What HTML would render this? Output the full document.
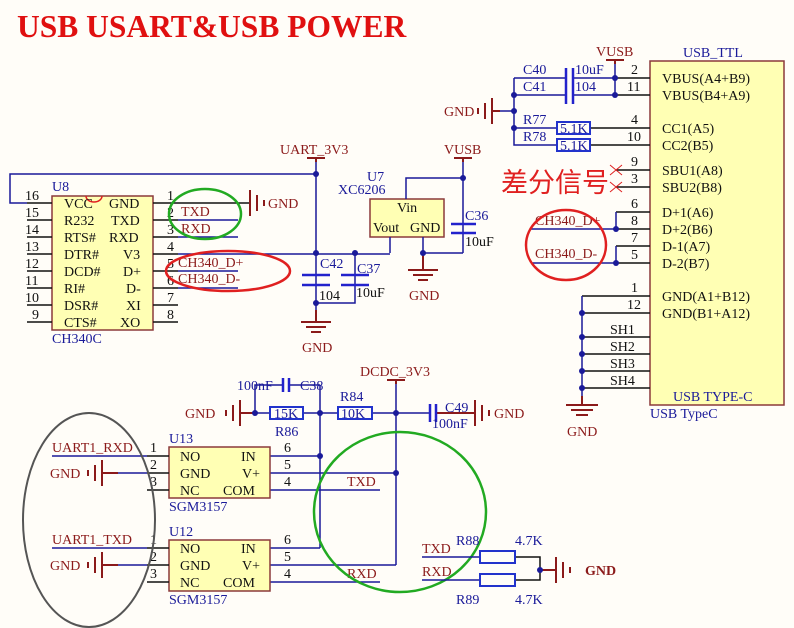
<!DOCTYPE html>
<html><head><meta charset="utf-8"><style>
html,body{margin:0;padding:0;background:#fffdf8}
svg{display:block}
text{font-family:"Liberation Serif","Noto Serif CJK SC",serif;font-size:14px}
.w{stroke:#1a1a99;stroke-width:1.5;fill:none}
.p{stroke:#111;stroke-width:1.5;fill:none}
.r{stroke:#8b1a1a;stroke-width:2;fill:none}
.b{fill:#ffffb4;stroke:#8b3a3a;stroke-width:1.5}
.c{stroke:#2222cc;stroke-width:2.5;fill:none}
.rb{fill:none;stroke:#2233cc;stroke-width:2}
.n{fill:#8b1a1a}
.l{fill:#1a1a99}
.k{fill:#111}
</style></head><body>
<svg width="794" height="628" viewBox="0 0 794 628" xmlns="http://www.w3.org/2000/svg">
<rect width="794" height="628" fill="#fffdf8"/>
<text x="17" y="37" style="font-size:31.5px;font-weight:bold" fill="#e01010">USB USART&amp;USB POWER</text>

<!-- CH340C -->
<rect class="b" x="52" y="196" width="101" height="134"/>
<path d="M86 196 a8 6 0 0 0 16 0" stroke="#e02020" stroke-width="1.5" fill="none"/>
<text x="52" y="191" class="l">U8</text>
<text x="52" y="343" class="l">CH340C</text>
<g class="p">
<path d="M27 203H52M27 220H52M27 237H52M27 254H52M27 271H52M27 288H52M27 305H52M27 322H52"/>
<path d="M153 203H250M153 220H178M153 237H178M153 254H178M153 271H178M153 288H178M153 305H178M153 322H178"/>
</g>
<g class="k">
<text x="25" y="200">16</text><text x="25" y="217">15</text><text x="25" y="234">14</text><text x="25" y="251">13</text><text x="25" y="268">12</text><text x="25" y="285">11</text><text x="25" y="302">10</text><text x="32" y="319">9</text>
<text x="167" y="200">1</text><text x="167" y="217">2</text><text x="167" y="234">3</text><text x="167" y="251">4</text><text x="167" y="268">5</text><text x="167" y="285">6</text><text x="167" y="302">7</text><text x="167" y="319">8</text>
<text x="64" y="208">VCC</text><text x="64" y="225">R232</text><text x="64" y="242">RTS#</text><text x="64" y="259">DTR#</text><text x="64" y="276">DCD#</text><text x="64" y="293">RI#</text><text x="64" y="310">DSR#</text><text x="64" y="327">CTS#</text>
<text x="109" y="208">GND</text><text x="111" y="225">TXD</text><text x="109" y="242">RXD</text><text x="123" y="259">V3</text><text x="123" y="276">D+</text><text x="126" y="293">D-</text><text x="126" y="310">XI</text><text x="120" y="327">XO</text>
</g>
<path class="w" d="M178 220H238M178 237H238M178 254H390M178 271H238M178 288H238"/>
<path class="r" d="M250 190V216M257 195V211M264 200V206"/>
<text x="268" y="208" class="n">GND</text>
<text x="181" y="216" class="n">TXD</text><text x="181" y="233" class="n">RXD</text>
<text x="178" y="267" class="n">CH340_D+</text><text x="178" y="283" class="n">CH340_D-</text>
<ellipse cx="205" cy="214" rx="36" ry="25" fill="none" stroke="#22aa22" stroke-width="2.5"/>
<ellipse cx="228" cy="271" rx="62" ry="20" fill="none" stroke="#e02020" stroke-width="2.5"/>

<!-- VCC wire & UART_3V3 -->
<path class="w" d="M27 203H10V174H316M316 160V322M316 303H355V253"/>
<path class="r" d="M307 158H325M316 158V162"/>
<text x="280" y="154" class="n">UART_3V3</text>
<path class="c" d="M302 275H330M302 285H330M341 275H369M341 285H369"/>
<text x="320" y="268" class="l">C42</text><text x="357" y="273" class="l">C37</text>
<text x="319" y="300" class="k">104</text><text x="356" y="297" class="k">10uF</text>
<path class="r" d="M316 310V322M301 322H331M306 327H326M311 332H321"/>
<text x="302" y="352" class="n">GND</text>

<!-- XC6206 -->
<rect class="b" x="370" y="199" width="74" height="38"/>
<text x="367" y="181" class="l">U7</text><text x="338" y="194" class="l">XC6206</text>
<text x="397" y="212" class="k">Vin</text><text x="373" y="232" class="k">Vout</text><text x="410" y="232" class="k">GND</text>
<path class="w" d="M406 199V178H463M390 237V253M423 237V253H463M463 160V253"/>
<path class="r" d="M454 158H472M463 158V162"/>
<text x="444" y="154" class="n">VUSB</text>
<path class="c" d="M451 224H476M451 233H476"/>
<text x="465" y="220" class="l">C36</text><text x="465" y="246" class="k">10uF</text>
<path class="r" d="M423 253V270M408 270H438M413 275H433M418 280H428"/>
<text x="409" y="300" class="n">GND</text>

<!-- USB TYPE C -->
<rect class="b" x="650" y="61" width="134" height="344"/>
<text x="683" y="57" class="l">USB_TTL</text>
<text x="673" y="401" class="l">USB TYPE-C</text>
<text x="650" y="418" class="l">USB TypeC</text>
<g class="k">
<text x="662" y="83">VBUS(A4+B9)</text><text x="662" y="100">VBUS(B4+A9)</text>
<text x="662" y="133">CC1(A5)</text><text x="662" y="150">CC2(B5)</text>
<text x="662" y="175">SBU1(A8)</text><text x="662" y="192">SBU2(B8)</text>
<text x="662" y="217">D+1(A6)</text><text x="662" y="234">D+2(B6)</text><text x="662" y="251">D-1(A7)</text><text x="662" y="268">D-2(B7)</text>
<text x="662" y="301">GND(A1+B12)</text><text x="662" y="318">GND(B1+A12)</text>
<text x="631" y="74">2</text><text x="627" y="91">11</text><text x="631" y="124">4</text><text x="627" y="141">10</text>
<text x="631" y="166">9</text><text x="631" y="183">3</text><text x="631" y="208">6</text><text x="631" y="225">8</text><text x="631" y="242">7</text><text x="631" y="259">5</text>
<text x="631" y="292">1</text><text x="627" y="309">12</text>
<text x="610" y="334">SH1</text><text x="610" y="351">SH2</text><text x="610" y="368">SH3</text><text x="610" y="385">SH4</text>
</g>
<path class="p" d="M615 78H650M615 95H650M590 128H650M590 145H650M616 170H650M616 187H650M616 212H650M616 229H650M616 246H650M616 263H650M582 296H650M582 313H650M582 337H650M582 354H650M582 371H650M582 388H650"/>
<path d="M610 165L622 175M622 165L610 175M610 182L622 192M622 182L610 192" stroke="#e02020" stroke-width="1"/>
<path class="w" d="M615 62V95M615 78H574M565 78H514M615 95H574M565 95H514M514 78V145H557M514 128H557M500 111H514"/>
<path class="r" d="M606 60H624M615 60V64"/>
<text x="596" y="56" class="n">VUSB</text>
<path class="c" d="M566 68V104M573 68V104"/>
<text x="523" y="74" class="l">C40</text><text x="523" y="91" class="l">C41</text>
<text x="575" y="74" class="l">10uF</text><text x="575" y="91" class="l">104</text>
<path class="r" d="M500 111H492M492 98V124M485 103V119M478 108V114"/>
<text x="444" y="116" class="n">GND</text>
<rect class="rb" x="557" y="122" width="33" height="12"/><rect class="rb" x="557" y="139" width="33" height="12"/>
<text x="560" y="133" class="l">5.1K</text><text x="560" y="150" class="l">5.1K</text>
<text x="523" y="124" class="l">R77</text><text x="523" y="141" class="l">R78</text>
<text x="501" y="192" style="font-size:27px;font-family:'Noto Sans CJK SC',sans-serif" fill="#e02020">差分信号</text>
<path class="w" d="M616 212V229M616 246V263M531 229H616M531 263H616M582 296V405"/>
<text x="535" y="225" class="n">CH340_D+</text><text x="535" y="258" class="n">CH340_D-</text>
<ellipse cx="566" cy="245" rx="40" ry="35" fill="none" stroke="#e02020" stroke-width="2.5"/>
<path class="r" d="M582 396V405M566 405H598M571 410H593M576 415H588"/>
<text x="567" y="436" class="n">GND</text>

<!-- bottom -->
<path class="r" d="M387 380H405M396 380V384"/>
<text x="360" y="376" class="n">DCDC_3V3</text>
<path class="w" d="M255 413H270M303 413H338M372 413H430M396 384V565M320 385V548M255 413V385H283M289 385H320M270 456H320M270 473H396M270 490H380M270 548H320M270 565H396M270 582H380"/>
<path class="r" d="M240 413H255M240 400V426M233 405V421M226 410V416M436 413H475M475 400V426M482 405V421M489 410V416"/>
<text x="185" y="418" class="n">GND</text><text x="494" y="418" class="n">GND</text>
<path class="c" d="M283 378V392M289 378V392M430 404V422M436 404V422"/>
<rect class="rb" x="270" y="407" width="33" height="12"/><rect class="rb" x="338" y="407" width="34" height="12"/>
<text x="274" y="418" class="l">15K</text><text x="341" y="418" class="l">10K</text>
<text x="237" y="390" class="l">100nF</text><text x="300" y="390" class="l">C38</text>
<text x="275" y="436" class="l">R86</text><text x="340" y="401" class="l">R84</text>
<text x="445" y="412" class="l">C49</text><text x="432" y="428" class="l">100nF</text>

<rect class="b" x="169" y="447" width="101" height="51"/>
<rect class="b" x="169" y="540" width="101" height="51"/>
<text x="169" y="443" class="l">U13</text><text x="169" y="511" class="l">SGM3157</text>
<text x="169" y="536" class="l">U12</text><text x="169" y="604" class="l">SGM3157</text>
<g class="k">
<text x="180" y="461">NO</text><text x="180" y="478">GND</text><text x="180" y="495">NC</text>
<text x="241" y="461">IN</text><text x="242" y="478">V+</text><text x="223" y="495">COM</text>
<text x="180" y="553">NO</text><text x="180" y="570">GND</text><text x="180" y="587">NC</text>
<text x="241" y="553">IN</text><text x="242" y="570">V+</text><text x="223" y="587">COM</text>
<text x="150" y="452">1</text><text x="150" y="469">2</text><text x="150" y="486">3</text>
<text x="150" y="544">1</text><text x="150" y="561">2</text><text x="150" y="578">3</text>
<text x="284" y="452">6</text><text x="284" y="469">5</text><text x="284" y="486">4</text>
<text x="284" y="544">6</text><text x="284" y="561">5</text><text x="284" y="578">4</text>
</g>
<path class="p" d="M147 456H169M147 473H169M147 490H169M147 548H169M147 565H169M147 582H169"/>
<path class="w" d="M52 456H147M118 473H147M52 548H147M118 565H147"/>
<path class="r" d="M102 473H118M102 460V486M95 465V481M88 470V476M102 565H118M102 552V578M95 557V573M88 562V568"/>
<text x="52" y="452" class="n">UART1_RXD</text><text x="52" y="544" class="n">UART1_TXD</text>
<text x="50" y="478" class="n">GND</text><text x="50" y="570" class="n">GND</text>
<text x="347" y="486" class="n">TXD</text><text x="347" y="578" class="n">RXD</text>
<ellipse cx="89" cy="520" rx="66" ry="107" fill="none" stroke="#555" stroke-width="2"/>
<ellipse cx="400" cy="512" rx="86" ry="80" fill="none" stroke="#22aa22" stroke-width="2.5"/>

<path class="w" d="M422 557H480M422 580H480"/>
<path class="p" d="M515 557H540V580H515"/>
<path class="r" d="M540 570H556M556 557V583M563 562V578M570 567V573"/>
<rect class="rb" x="480" y="551" width="35" height="12"/><rect class="rb" x="480" y="574" width="35" height="12"/>
<text x="422" y="553" class="n">TXD</text><text x="422" y="576" class="n">RXD</text>
<text x="456" y="545" class="l">R88</text><text x="515" y="545" class="l">4.7K</text>
<text x="456" y="604" class="l">R89</text><text x="515" y="604" class="l">4.7K</text>
<text x="585" y="575" class="n" style="font-weight:bold">GND</text>

<g fill="#1a1a99">
<circle cx="316" cy="174" r="3"/><circle cx="316" cy="253" r="3"/><circle cx="355" cy="253" r="3"/><circle cx="316" cy="303" r="3"/>
<circle cx="463" cy="178" r="3"/><circle cx="423" cy="253" r="3"/>
<circle cx="615" cy="78" r="3"/><circle cx="615" cy="95" r="3"/><circle cx="514" cy="95" r="3"/><circle cx="514" cy="111" r="3"/><circle cx="514" cy="128" r="3"/>
<circle cx="616" cy="229" r="3"/><circle cx="616" cy="263" r="3"/>
<circle cx="582" cy="313" r="3"/><circle cx="582" cy="337" r="3"/><circle cx="582" cy="354" r="3"/><circle cx="582" cy="371" r="3"/><circle cx="582" cy="388" r="3"/>
<circle cx="255" cy="413" r="3"/><circle cx="320" cy="413" r="3"/><circle cx="396" cy="413" r="3"/><circle cx="320" cy="456" r="3"/><circle cx="396" cy="473" r="3"/>
<circle cx="540" cy="570" r="3"/>
</g>
</svg>
</body></html>
